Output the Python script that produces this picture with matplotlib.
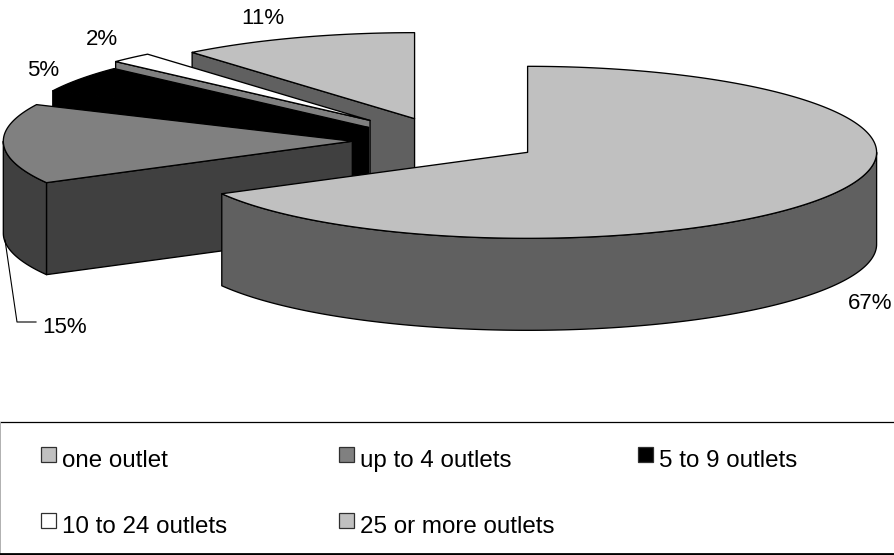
import numpy as np
import matplotlib
matplotlib.use("Agg")
import matplotlib.pyplot as plt
from matplotlib.patches import Polygon, Rectangle

plt.rcParams["font.family"] = ["Liberation Sans", "DejaVu Sans"]

# Share of businesses by number of outlets
categories = ["one outlet", "up to 4 outlets", "5 to 9 outlets", "10 to 24 outlets", "25 or more outlets"]
shares = [67, 15, 5, 2, 11]
share_labels = ["67%", "15%", "5%", "2%", "11%"]

top_colors = ["#c0c0c0", "#808080", "#000000", "#ffffff", "#c0c0c0"]
side_colors = ["#606060", "#404040", "#000000", "#808080", "#606060"]
explode = [0.27, 0.27, 0.27, 0.32, 0.27]

# Disc geometry in figure pixels
CX, CY = 446.5, 140.5
RX, RY = 349.0, 86.0
DEPTH = 92.0
LW = 0.95
INK = "#000000"

fig = plt.figure(figsize=(8.95, 5.55), dpi=100)
ax = fig.add_axes([0, 0, 1, 1])
ax.set_xlim(0, 895)
ax.set_ylim(555, 0)
ax.axis("off")


def rim_point(apex, deg):
    t = np.radians(deg)
    return apex[0] + RX * np.sin(t), apex[1] - RY * np.cos(t)


def arc(apex, a, b):
    t = np.linspace(a, b, max(int(abs(b - a) * 2), 2))
    xs, ys = rim_point(apex, t)
    return np.column_stack([xs, ys])


def face(points, color, z):
    ax.add_patch(Polygon(points, closed=True, facecolor=color, edgecolor=INK,
                         linewidth=LW, joinstyle="round", zorder=z))


def draw_slice(apex, start, end, top, side, z):
    # Cut faces turned towards the viewer
    for deg, visible in ((start, np.sin(np.radians(start)) < -1e-6),
                         (end, np.sin(np.radians(end)) > 1e-6)):
        if visible:
            x, y = rim_point(apex, deg)
            face([apex, (x, y), (x, y + DEPTH), (apex[0], apex[1] + DEPTH)], side, z)
    # Outer wall on the near half of the disc
    lo, hi = max(start, 90), min(end, 270)
    if hi > lo:
        upper = arc(apex, lo, hi)
        lower = upper[::-1] + [0, DEPTH]
        face(np.vstack([upper, lower]), side, z)
    # Top surface
    face(np.vstack([[apex], arc(apex, start, end)]), top, z + 0.5)


bounds = np.cumsum([0] + shares) * 3.6
slices = []
for i in range(len(shares)):
    mid = np.radians((bounds[i] + bounds[i + 1]) / 2)
    apex = (CX + explode[i] * RX * np.sin(mid), CY - explode[i] * RY * np.cos(mid))
    slices.append((apex, bounds[i], bounds[i + 1], top_colors[i], side_colors[i]))

# Painted from the back of the disc to the front
for z, i in enumerate([4, 3, 2, 1, 0]):
    draw_slice(*slices[i], z=z + 2)

# Value labels
label_pos = [(848, 309), (42, 333), (27, 76), (86, 45), (241, 24)]
for text, (x, y) in zip(share_labels, label_pos):
    ax.text(x, y, text, fontsize=16, color="#000000", ha="left", va="baseline", zorder=20)
ax.plot([5, 17, 36], [240, 322, 322], color=INK, lw=0.8, zorder=20)

# Legend panel
ax.plot([0, 895], [421.5, 421.5], color=INK, lw=0.9, zorder=1)
ax.plot([0.5, 0.5], [421.5, 553], color="#b0b0b0", lw=0.7, zorder=1)
ax.plot([0, 895], [553.5, 553.5], color=INK, lw=2.0, zorder=1)

col_x = [41, 339, 638, 41, 339]
row_y = [447, 447, 447, 513, 513]
for name, color, x, y in zip(categories, top_colors, col_x, row_y):
    ax.add_patch(Rectangle((x, y), 15, 15, facecolor=color, edgecolor="#303030", linewidth=0.9, zorder=5))
    ax.text(x + 21, y + 20, name, fontsize=17.4, color="#000000", ha="left", va="baseline", zorder=5)

fig.savefig("out.png", dpi=100, facecolor="white")
